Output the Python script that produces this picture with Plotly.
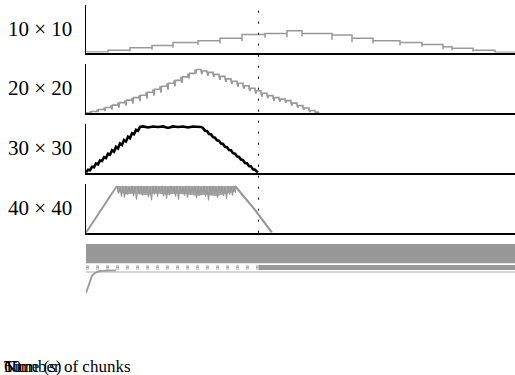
import plotly.graph_objects as go

W, H = 515, 375
FONT = "Liberation Serif"
GRAY = "#999999"

# ---------------- data ----------------
panel_labels = ["10 × 10", "20 × 20", "30 × 30", "40 × 40"]
bottom_texts = ["Number of chunks", "Time (s)", "60"]
marker_time = 172.5  # dotted vertical marker

# Panel 1 (10x10): step boundaries, levels between them, dips at inner boundaries
p1_bounds = [0, 22, 44, 66, 87, 112, 134, 156, 179, 201, 216, 246, 266, 287, 314, 336, 357, 366, 387, 409, 429]
p1_levels = [0.01, 0.05, 0.10, 0.15, 0.21, 0.25, 0.30, 0.38, 0.40, 0.46, 0.40, 0.37, 0.30, 0.25, 0.21, 0.17, 0.12, 0.09, 0.05, 0.005]
p1_dips = [0.0, 0.03, 0.04, 0.05, 0.05, 0.06, 0.06, 0.07, 0.08, 0.06, 0.10, 0.08, 0.06, 0.06, 0.05, 0.05, 0.04, 0.03, 0.0]

# Panel 2 (20x20): tooth times, tooth values, tooth dips
p2_t = [4, 11, 18, 25, 32, 39, 46, 53, 60, 67, 74, 81, 88, 95, 102, 109,
        115, 121, 127, 133, 139, 145, 151, 157, 163, 169, 175, 181, 187, 193, 199, 205, 211, 217, 223, 229, 232]
p2_v = [0.03, 0.07, 0.11, 0.16, 0.21, 0.26, 0.31, 0.36, 0.42, 0.48, 0.54, 0.60, 0.66, 0.73, 0.80, 0.88,
        0.85, 0.82, 0.78, 0.74, 0.69, 0.64, 0.60, 0.55, 0.50, 0.45, 0.40, 0.35, 0.31, 0.28, 0.25, 0.20, 0.15, 0.10, 0.05, 0.02, 0.0]
p2_dips = [0.02, 0.05, 0.07, 0.09, 0.10, 0.11, 0.12, 0.12, 0.13, 0.13, 0.13, 0.13, 0.12, 0.12, 0.10, 0.08,
           0.06, 0.07, 0.05, 0.07, 0.06, 0.05, 0.07, 0.06, 0.05, 0.06, 0.07, 0.05, 0.06, 0.05, 0.04, 0.05, 0.04, 0.03, 0.03, 0.02, 0.0]

# Panel 3 (30x30)
p3_t = [0, 2, 4, 6, 8, 10, 12, 14, 16, 18, 20, 22, 24, 26, 28, 30, 32, 34, 36, 38, 40, 42, 44, 46, 48, 50, 52, 54,
        57, 62, 67, 72, 77, 82, 87, 92, 97, 102, 107, 112, 115,
        117, 119, 121, 123, 125, 127, 129, 131, 133, 135, 137, 139, 141, 143, 145, 147, 149, 151, 153, 155,
        157, 159, 161, 163, 165, 167, 169, 171, 172]
p3_v = [0.0, 0.06, 0.05, 0.12, 0.11, 0.19, 0.17, 0.25, 0.24, 0.32, 0.30, 0.39, 0.37, 0.46, 0.43, 0.53, 0.50, 0.60,
        0.57, 0.67, 0.64, 0.74, 0.71, 0.81, 0.79, 0.88, 0.86, 0.94,
        0.95, 0.93, 0.95, 0.94, 0.95, 0.92, 0.95, 0.94, 0.95, 0.93, 0.95, 0.94, 0.94,
        0.92, 0.86, 0.855, 0.795, 0.79, 0.73, 0.72, 0.665, 0.655, 0.60, 0.59, 0.53, 0.525, 0.465, 0.46, 0.40,
        0.39, 0.335, 0.325, 0.27, 0.26, 0.20, 0.195, 0.135, 0.13, 0.07, 0.06, 0.01, 0.0]

# Panel 4 (40x40): rise, noisy plateau (band edges + spikes), fall
p4_rise_t = [0, 4, 8, 12, 16, 20, 24, 28, 31]
p4_rise_v = [0.0, 0.12, 0.25, 0.38, 0.50, 0.62, 0.75, 0.87, 0.96]
p4_band_t = [31, 40, 50, 60, 70, 80, 90, 100, 110, 120, 130, 140, 149]
p4_band_low = [0.84, 0.79, 0.80, 0.77, 0.81, 0.78, 0.80, 0.79, 0.76, 0.78, 0.75, 0.79, 0.84]
p4_plateau_t0 = 31
p4_plateau_step = 1.5
p4_plateau_top = [0.96, 0.95, 0.96, 0.96, 0.94, 0.96, 0.95, 0.96, 0.96, 0.95, 0.96, 0.94, 0.96, 0.96, 0.95, 0.96,
                  0.96, 0.95, 0.96, 0.94, 0.96, 0.96, 0.95, 0.96, 0.96, 0.95, 0.96, 0.96, 0.94, 0.96, 0.95, 0.96,
                  0.96, 0.95, 0.96, 0.96, 0.94, 0.96, 0.95, 0.96]
p4_plateau_low = [0.80, 0.74, 0.72, 0.78, 0.82, 0.75, 0.68, 0.79, 0.76, 0.81, 0.73, 0.67, 0.78, 0.74, 0.80, 0.75,
                  0.70, 0.77, 0.81, 0.74, 0.68, 0.79, 0.76, 0.72, 0.78, 0.82, 0.71, 0.76, 0.80, 0.74, 0.66, 0.77,
                  0.79, 0.72, 0.81, 0.75, 0.70, 0.78, 0.76, 0.82]
p4_fall_t = [149, 154, 159, 164, 169, 174, 179, 184, 186]
p4_fall_v = [0.96, 0.84, 0.71, 0.59, 0.47, 0.33, 0.19, 0.05, 0.0]

# Panel 5 (unlabelled): overlapping full-width levels, right-only levels, start curve
p5_full_levels = [0.98, 0.95, 0.92, 0.89, 0.86, 0.83, 0.80, 0.77, 0.74, 0.71, 0.68, 0.65, 0.63]
p5_right_levels = [0.55, 0.52, 0.49]
p5_light_level = 0.43
p5_curve_t = [0, 2, 4, 6, 9, 14, 30]
p5_curve_v = [0.0, 0.12, 0.27, 0.35, 0.41, 0.45, 0.46]

T_MAX = 429

# ---------------- build ----------------
fig = go.Figure()


def steps_with_dips(bounds, levels, dips):
    xs, ys = [bounds[0]], [levels[0]]
    for i in range(1, len(levels)):
        b = bounds[i]
        prev, cur = levels[i - 1], levels[i]
        xs += [b, b, b]
        ys += [prev, min(prev, cur) - dips[i - 1], cur]
    xs.append(bounds[-1])
    ys.append(levels[-1])
    return xs, ys


def teeth(ts, vs, ds):
    xs, ys = [0], [0]
    prev = 0
    for t, v, d in zip(ts, vs, ds):
        xs += [t, t, t + 1, t + 1.5]
        ys += [prev, v, v - d, v]
        prev = v
    return xs, ys


x1, y1 = steps_with_dips(p1_bounds, p1_levels, p1_dips)
fig.add_trace(go.Scatter(x=x1, y=y1, mode="lines", line=dict(color=GRAY, width=1.5),
                         xaxis="x", yaxis="y", hoverinfo="skip"))

x2, y2 = teeth(p2_t, p2_v, p2_dips)
fig.add_trace(go.Scatter(x=x2, y=y2, mode="lines", line=dict(color=GRAY, width=1.6),
                         xaxis="x2", yaxis="y2", hoverinfo="skip"))

fig.add_trace(go.Scatter(x=p3_t, y=p3_v, mode="lines", line=dict(color="black", width=2.6),
                         xaxis="x3", yaxis="y3", hoverinfo="skip"))

# panel 4 band fill
bx = [p4_band_t[0], p4_band_t[-1]] + p4_band_t[::-1]
by = [0.96, 0.96] + p4_band_low[::-1]
fig.add_trace(go.Scatter(x=bx, y=by, mode="lines", fill="toself", fillcolor="#a8a8a8",
                         line=dict(width=0), xaxis="x4", yaxis="y4", hoverinfo="skip"))
x4, y4 = [], []
for i, (top, low) in enumerate(zip(p4_plateau_top, p4_plateau_low)):
    t = p4_plateau_t0 + 2 * p4_plateau_step * i
    x4 += [t, t + p4_plateau_step]
    y4 += [top, low]
x4.append(p4_fall_t[0])
y4.append(p4_fall_v[0])
fig.add_trace(go.Scatter(x=x4, y=y4, mode="lines", line=dict(color=GRAY, width=1.2),
                         xaxis="x4", yaxis="y4", hoverinfo="skip"))
fig.add_trace(go.Scatter(x=p4_rise_t, y=p4_rise_v, mode="lines", line=dict(color=GRAY, width=2),
                         xaxis="x4", yaxis="y4", hoverinfo="skip"))
fig.add_trace(go.Scatter(x=p4_fall_t, y=p4_fall_v, mode="lines", line=dict(color=GRAY, width=2.2),
                         xaxis="x4", yaxis="y4", hoverinfo="skip"))

x5, y5 = [], []
for lv in p5_full_levels:
    x5 += [0, T_MAX, None]
    y5 += [lv, lv, None]
fig.add_trace(go.Scatter(x=x5, y=y5, mode="lines", line=dict(color=GRAY, width=2.2),
                         xaxis="x5", yaxis="y5", hoverinfo="skip"))
xr, yr, xl, yl = [], [], [], []
for lv in p5_right_levels:
    xr += [marker_time, T_MAX, None]
    yr += [lv, lv, None]
    xl += [0, marker_time, None]
    yl += [lv, lv, None]
fig.add_trace(go.Scatter(x=xr, y=yr, mode="lines", line=dict(color=GRAY, width=2),
                         xaxis="x5", yaxis="y5", hoverinfo="skip"))
fig.add_trace(go.Scatter(x=xl, y=yl, mode="lines", line=dict(color="#aaaaaa", width=1.2, dash="3px,7px"),
                         xaxis="x5", yaxis="y5", hoverinfo="skip"))
fig.add_trace(go.Scatter(x=[0, T_MAX], y=[p5_light_level] * 2, mode="lines",
                         line=dict(color="#c8c8c8", width=1.5),
                         xaxis="x5", yaxis="y5", hoverinfo="skip"))
fig.add_trace(go.Scatter(x=p5_curve_t, y=p5_curve_v, mode="lines", line=dict(color=GRAY, width=1.8),
                         xaxis="x5", yaxis="y5", hoverinfo="skip"))

# ---------------- layout ----------------
panels_px = [(5, 52.5), (63.5, 113), (124, 172.7), (184, 232.7), (244, 293)]
x_dom = [86 / W, 1]

layout = dict(width=W, height=H, margin=dict(l=0, r=0, t=0, b=0),
              paper_bgcolor="white", plot_bgcolor="white", showlegend=False,
              font=dict(family=FONT, color="black"))

for i, (top, bot) in enumerate(panels_px):
    n = "" if i == 0 else str(i + 1)
    show = i < 4
    layout["xaxis" + n] = dict(domain=x_dom, range=[0, T_MAX], anchor="y" + n,
                               showline=show, linecolor="black", linewidth=2,
                               showticklabels=False, ticks="", showgrid=False, zeroline=False)
    layout["yaxis" + n] = dict(domain=[1 - bot / H, 1 - top / H], range=[0, 1], anchor="x" + n,
                               showline=show, linecolor="black", linewidth=1,
                               showticklabels=False, ticks="", showgrid=False, zeroline=False)

fig.update_layout(**layout)

fig.add_shape(type="line", xref="x", yref="paper", x0=marker_time, x1=marker_time,
              y0=1 - 232.7 / H, y1=1 - 5 / H,
              line=dict(color="black", width=1, dash="2px,9px"))

for i, lab in enumerate(panel_labels):
    top, bot = panels_px[i]
    fig.add_annotation(text=lab, xref="paper", yref="paper", x=40 / W, y=1 - (top + bot) / 2 / H,
                       xanchor="center", yanchor="middle", showarrow=False,
                       font=dict(family=FONT, size=21, color="black"))

for txt in bottom_texts:
    fig.add_annotation(text=txt, xref="paper", yref="paper", x=2 / W, y=1 - 366 / H,
                       xanchor="left", yanchor="middle", showarrow=False,
                       font=dict(family=FONT, size=17, color="black"))

fig.write_html("out.html", config={"displayModeBar": False, "staticPlot": True},
               post_script="document.body.style.margin='0';")
